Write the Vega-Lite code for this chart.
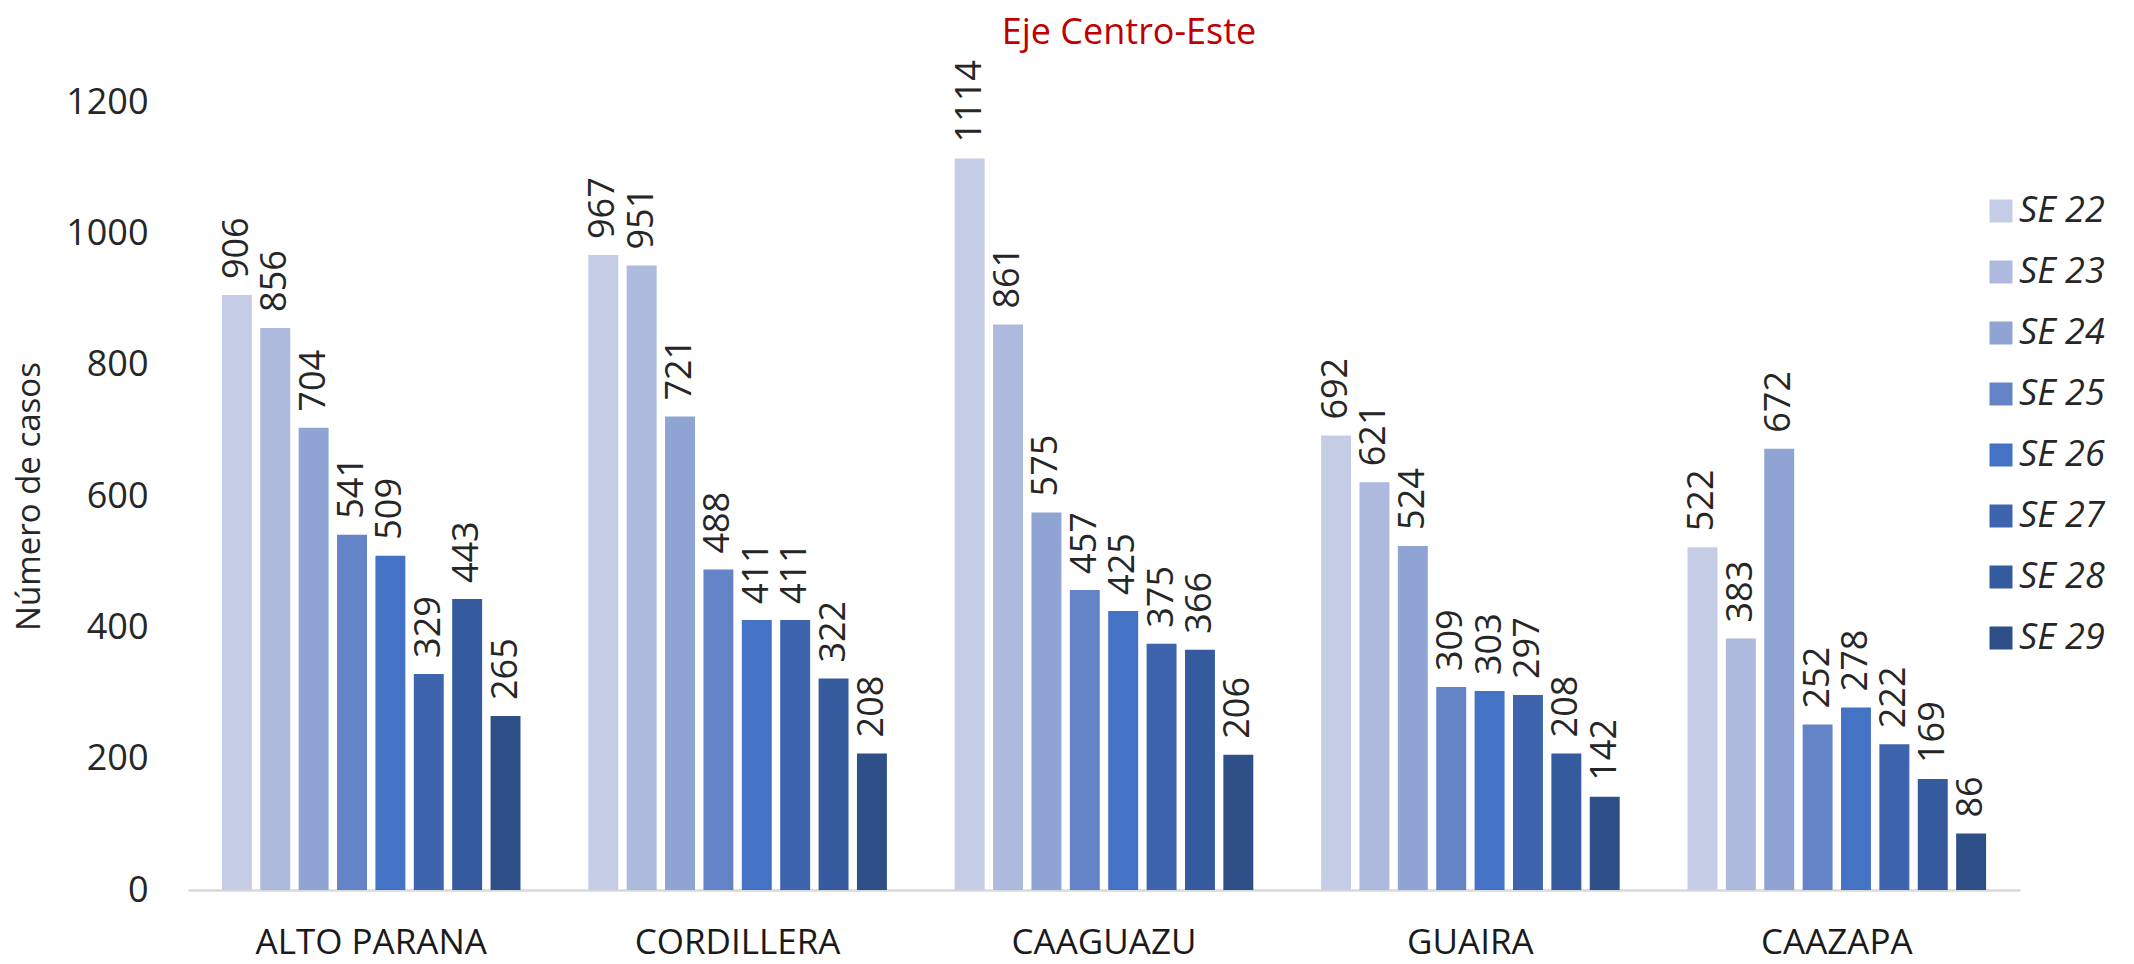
{
  "$schema": "https://vega.github.io/schema/vega-lite/v6.json",
  "width": 1832,
  "height": 788,
  "autosize": "none",
  "padding": {"left": 188, "top": 102, "right": 114, "bottom": 74},
  "background": "white",
  "config": {"view": {"stroke": null}},
  "title": {
    "text": "Eje Centro-Este",
    "color": "#C00000",
    "font": "Open Sans",
    "fontSize": 36,
    "fontWeight": "normal",
    "anchor": "middle",
    "dx": 25,
    "offset": 8
  },
  "data": {
    "values": [
      {"dep": "ALTO PARANA", "se": "SE 22", "n": 906},
      {"dep": "ALTO PARANA", "se": "SE 23", "n": 856},
      {"dep": "ALTO PARANA", "se": "SE 24", "n": 704},
      {"dep": "ALTO PARANA", "se": "SE 25", "n": 541},
      {"dep": "ALTO PARANA", "se": "SE 26", "n": 509},
      {"dep": "ALTO PARANA", "se": "SE 27", "n": 329},
      {"dep": "ALTO PARANA", "se": "SE 28", "n": 443},
      {"dep": "ALTO PARANA", "se": "SE 29", "n": 265},
      {"dep": "CORDILLERA", "se": "SE 22", "n": 967},
      {"dep": "CORDILLERA", "se": "SE 23", "n": 951},
      {"dep": "CORDILLERA", "se": "SE 24", "n": 721},
      {"dep": "CORDILLERA", "se": "SE 25", "n": 488},
      {"dep": "CORDILLERA", "se": "SE 26", "n": 411},
      {"dep": "CORDILLERA", "se": "SE 27", "n": 411},
      {"dep": "CORDILLERA", "se": "SE 28", "n": 322},
      {"dep": "CORDILLERA", "se": "SE 29", "n": 208},
      {"dep": "CAAGUAZU", "se": "SE 22", "n": 1114},
      {"dep": "CAAGUAZU", "se": "SE 23", "n": 861},
      {"dep": "CAAGUAZU", "se": "SE 24", "n": 575},
      {"dep": "CAAGUAZU", "se": "SE 25", "n": 457},
      {"dep": "CAAGUAZU", "se": "SE 26", "n": 425},
      {"dep": "CAAGUAZU", "se": "SE 27", "n": 375},
      {"dep": "CAAGUAZU", "se": "SE 28", "n": 366},
      {"dep": "CAAGUAZU", "se": "SE 29", "n": 206},
      {"dep": "GUAIRA", "se": "SE 22", "n": 692},
      {"dep": "GUAIRA", "se": "SE 23", "n": 621},
      {"dep": "GUAIRA", "se": "SE 24", "n": 524},
      {"dep": "GUAIRA", "se": "SE 25", "n": 309},
      {"dep": "GUAIRA", "se": "SE 26", "n": 303},
      {"dep": "GUAIRA", "se": "SE 27", "n": 297},
      {"dep": "GUAIRA", "se": "SE 28", "n": 208},
      {"dep": "GUAIRA", "se": "SE 29", "n": 142},
      {"dep": "CAAZAPA", "se": "SE 22", "n": 522},
      {"dep": "CAAZAPA", "se": "SE 23", "n": 383},
      {"dep": "CAAZAPA", "se": "SE 24", "n": 672},
      {"dep": "CAAZAPA", "se": "SE 25", "n": 252},
      {"dep": "CAAZAPA", "se": "SE 26", "n": 278},
      {"dep": "CAAZAPA", "se": "SE 27", "n": 222},
      {"dep": "CAAZAPA", "se": "SE 28", "n": 169},
      {"dep": "CAAZAPA", "se": "SE 29", "n": 86}
    ]
  },
  "encoding": {
    "x": {
      "field": "dep",
      "type": "nominal",
      "sort": ["ALTO PARANA", "CORDILLERA", "CAAGUAZU", "GUAIRA", "CAAZAPA"],
      "scale": {"paddingInner": 0.162, "paddingOuter": 0.081},
      "axis": {
        "title": null,
        "labelAngle": 0,
        "labelFont": "Open Sans",
        "labelFontSize": 35,
        "labelColor": "#1a1a1a",
        "labelPadding": 35,
        "labelLimit": 0,
        "ticks": false,
        "domainColor": "#D9D9D9",
        "domainWidth": 2.5
      }
    },
    "xOffset": {
      "field": "se",
      "type": "nominal",
      "scale": {"paddingInner": 0.22, "paddingOuter": 0.11}
    },
    "y": {
      "field": "n",
      "type": "quantitative",
      "scale": {"domain": [0, 1200]},
      "axis": {
        "values": [0, 200, 400, 600, 800, 1000, 1200],
        "format": "d",
        "domain": false,
        "ticks": false,
        "grid": false,
        "labelFont": "Open Sans",
        "labelFontSize": 36,
        "labelColor": "#262626",
        "labelPadding": 40,
        "title": "Número de casos",
        "titleFont": "Open Sans",
        "titleFontSize": 33,
        "titleFontWeight": "normal",
        "titleColor": "#262626",
        "titlePadding": 19
      }
    }
  },
  "layer": [
    {
      "mark": {"type": "bar"},
      "encoding": {
        "color": {
          "field": "se",
          "type": "nominal",
          "scale": {
            "domain": ["SE 22", "SE 23", "SE 24", "SE 25", "SE 26", "SE 27", "SE 28", "SE 29"],
            "range": ["#C5CDE6", "#ADB9DD", "#8FA4D3", "#6584C8", "#4472C4", "#3D64AC", "#365A9E", "#2F4F89"]
          },
          "legend": {
            "title": null,
            "orient": "none",
            "legendX": 1795,
            "legendY": 91,
            "padding": 0,
            "symbolType": "square",
            "symbolSize": 529,
            "symbolStrokeWidth": 0,
            "symbolOpacity": 1,
            "labelFont": "Open Sans",
            "labelFontStyle": "italic",
            "labelFontSize": 36,
            "labelColor": "#262626",
            "labelOffset": 0,
            "rowPadding": 25
          }
        }
      }
    },
    {
      "mark": {
        "type": "text",
        "angle": 270,
        "align": "left",
        "baseline": "middle",
        "dx": 16,
        "font": "Open Sans",
        "fontSize": 36,
        "color": "#262626"
      },
      "encoding": {
        "text": {"field": "n", "type": "quantitative"}
      }
    }
  ]
}
